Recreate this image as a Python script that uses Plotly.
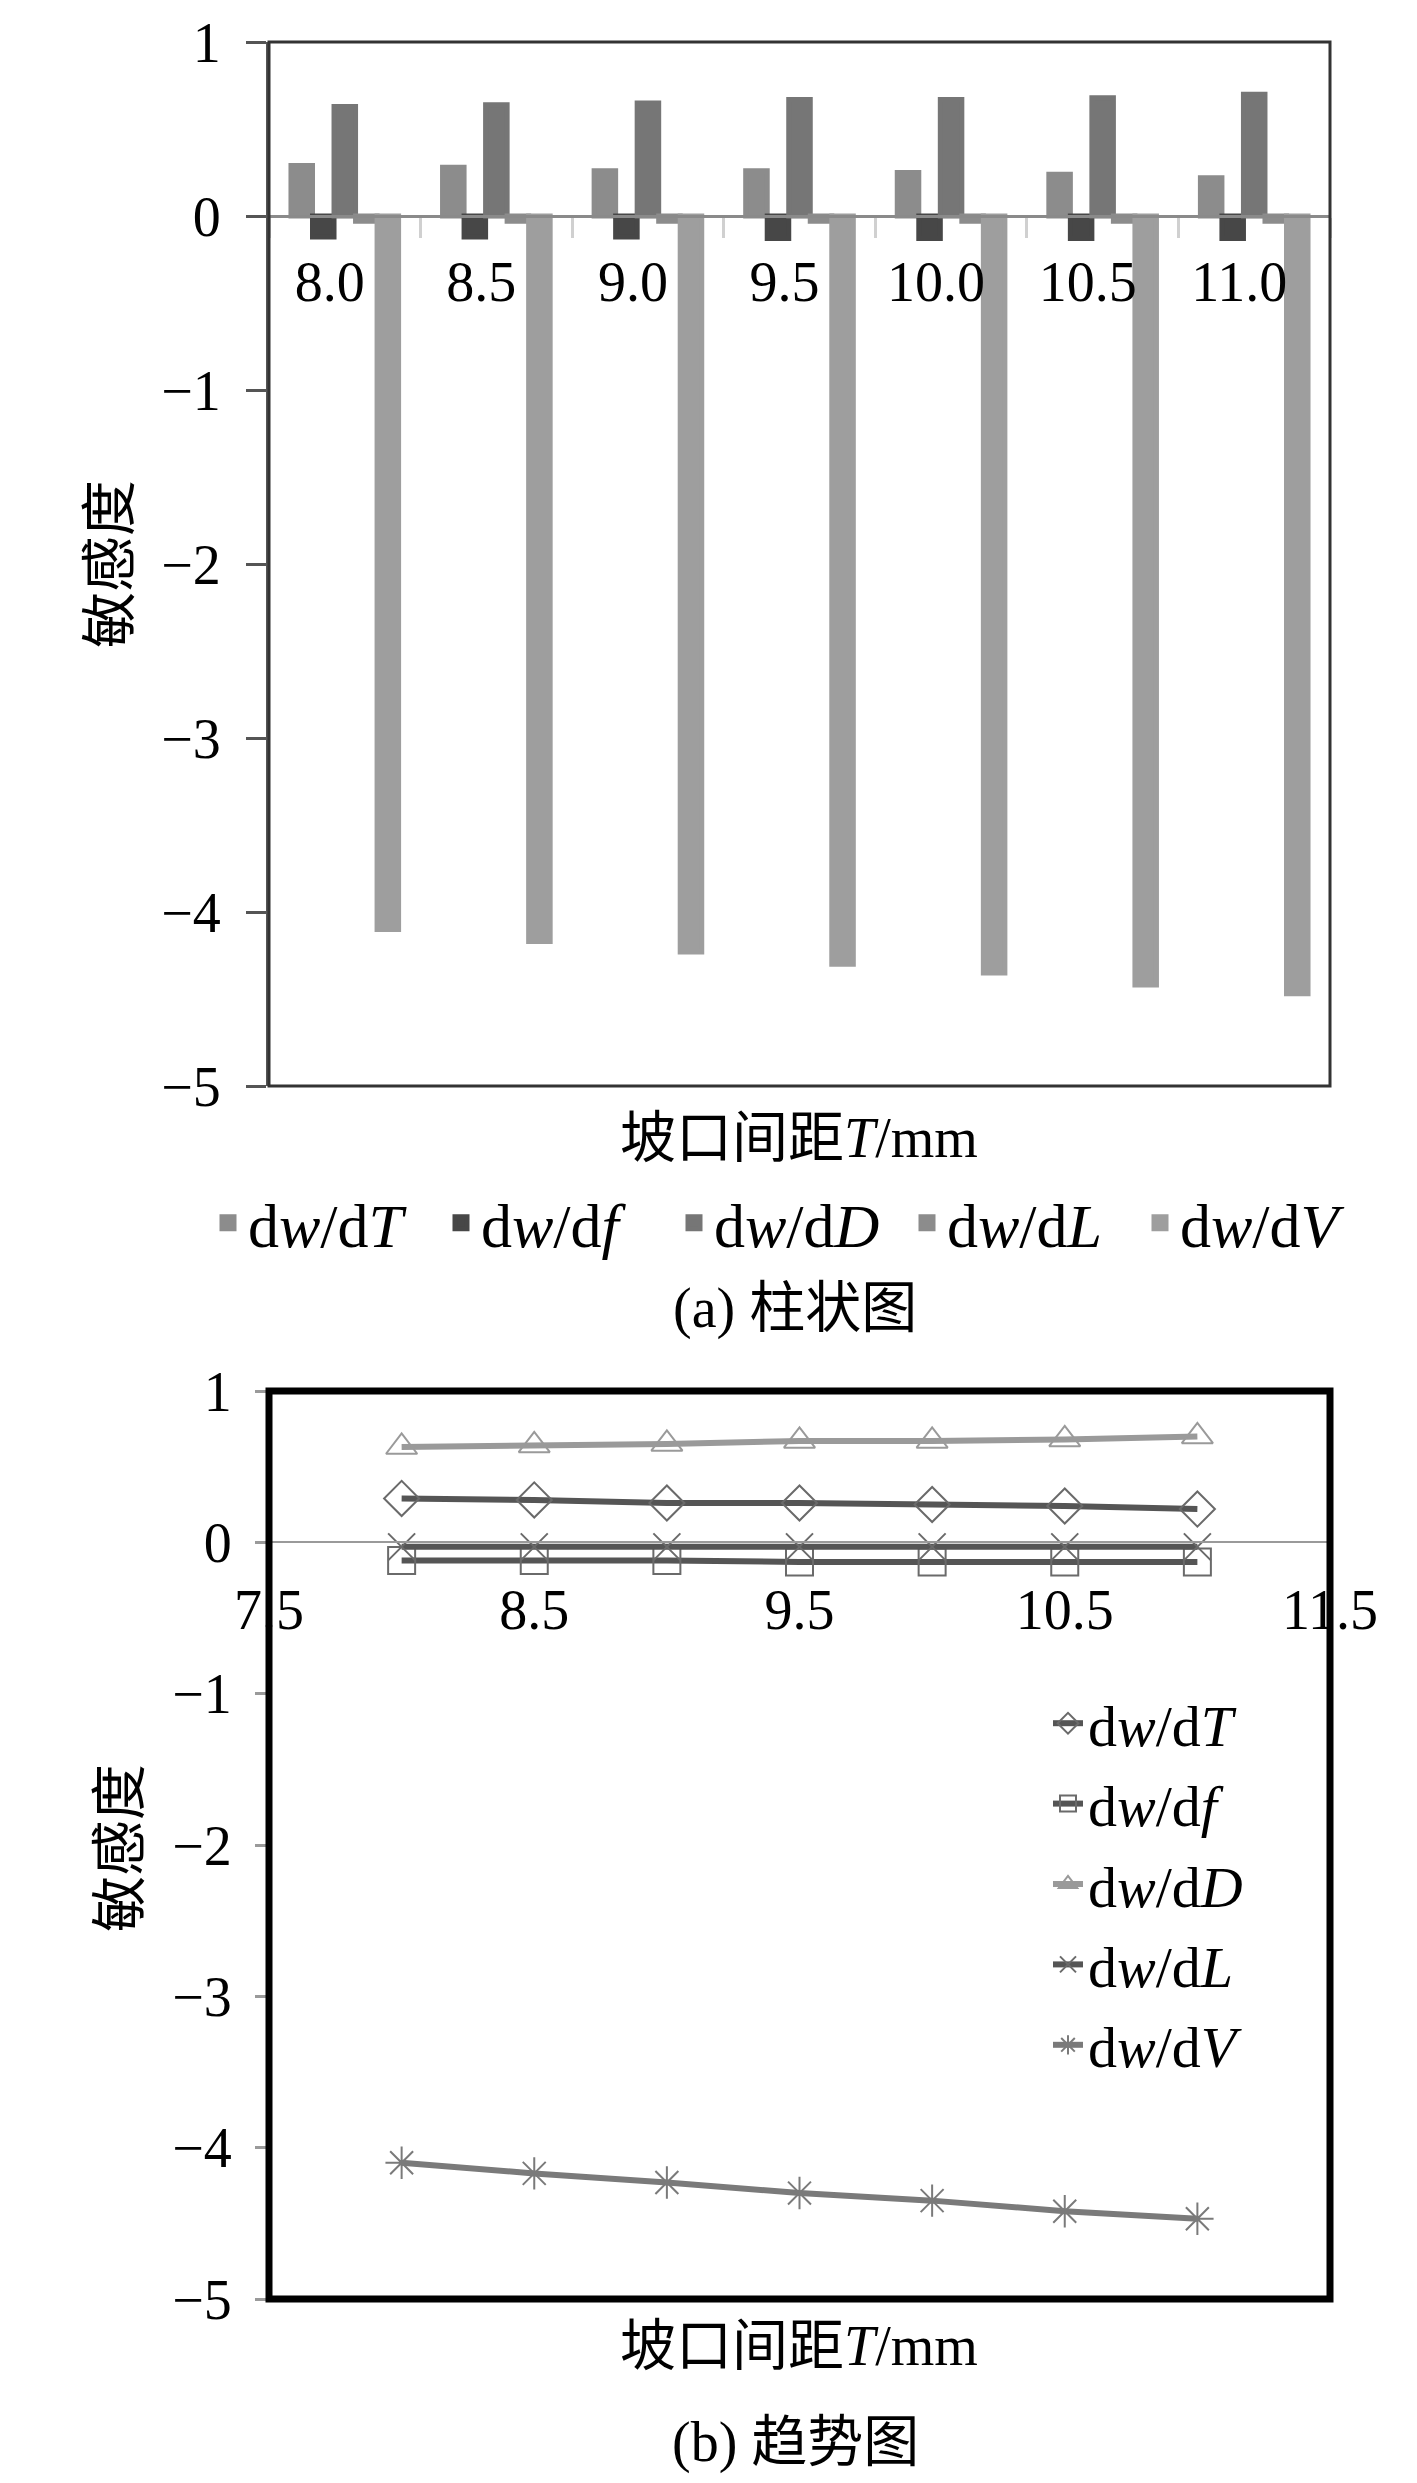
import plotly.graph_objects as go

# groove spacing T (mm) and sensitivities
spacing = ["8.0", "8.5", "9.0", "9.5", "10.0", "10.5", "11.0"]
spacing_num = [8.0, 8.5, 9.0, 9.5, 10.0, 10.5, 11.0]

dw_dT = [0.29, 0.28, 0.26, 0.26, 0.25, 0.24, 0.22]
dw_df = [-0.12, -0.12, -0.12, -0.13, -0.13, -0.13, -0.13]
dw_dD = [0.63, 0.64, 0.65, 0.67, 0.67, 0.68, 0.70]
dw_dL = [-0.03, -0.03, -0.03, -0.03, -0.03, -0.03, -0.03]
dw_dV = [-4.10, -4.17, -4.23, -4.30, -4.35, -4.42, -4.47]

names = ["d<i>w</i>/d<i>T</i>", "d<i>w</i>/d<i>f</i>", "d<i>w</i>/d<i>D</i>",
         "d<i>w</i>/d<i>L</i>", "d<i>w</i>/d<i>V</i>"]
series = [dw_dT, dw_df, dw_dD, dw_dL, dw_dV]

y_ticks = [1, 0, -1, -2, -3, -4, -5]
x2_ticks = [7.5, 8.5, 9.5, 10.5, 11.5]

W, H = 1417, 2483
FONT = "Liberation Serif, Noto Sans CJK SC"
FS = 56

bar_colors = ["#8c8c8c", "#474747", "#767676", "#8c8c8c", "#9e9e9e"]
line_colors = ["#555555", "#555555", "#9a9a9a", "#555555", "#7a7a7a"]
marker_colors = ["#6a6a6a", "#6a6a6a", "#9a9a9a", "#6a6a6a", "#7a7a7a"]
symbols = ["diamond-open", "square-open", "triangle-up-open", "x-thin-open", "asterisk-open"]


def py(px):
    # pixel row -> paper fraction
    return 1 - px / H


x_dom = [261 / W, 1322 / W]
y1_dom = [py(1078), py(34)]
y2_dom = [py(2291), py(1383)]
y1_zero = y1_dom[0] + (y1_dom[1] - y1_dom[0]) * 5 / 6
y2_zero = y2_dom[0] + (y2_dom[1] - y2_dom[0]) * 5 / 6

fig = go.Figure()

for name, vals, col in zip(names, series, bar_colors):
    fig.add_trace(go.Bar(x=spacing, y=vals, name=name, xaxis="x", yaxis="y",
                         marker=dict(color=col, line=dict(color=col, width=5)),
                         legend="legend"))

for i, (name, vals) in enumerate(zip(names, series)):
    fig.add_trace(go.Scatter(x=spacing_num, y=vals, name=name, xaxis="x2", yaxis="y2",
                             mode="lines+markers", legend="legend2", legendgroup="g%d" % i,
                             line=dict(color=line_colors[i], width=6),
                             marker=dict(symbol=symbols[i], size=27, color=marker_colors[i],
                                         line=dict(color=marker_colors[i], width=2))))

tickfont = dict(family=FONT, size=FS, color="black")


def label(text, x, y, angle=0):
    return dict(text=text, textangle=angle, x=x / W, y=py(y), xref="paper", yref="paper",
                xanchor="center", yanchor="middle", showarrow=False,
                font=dict(family=FONT, size=FS, color="black"))


fig.update_layout(
    width=W, height=H,
    margin=dict(l=0, r=0, t=0, b=0, autoexpand=False),
    paper_bgcolor="white", plot_bgcolor="white",
    barmode="group", bargap=0.29, bargroupgap=0,
    font=dict(family=FONT, size=FS, color="black"),
    xaxis=dict(domain=x_dom, type="category", anchor="free", position=y1_zero, automargin=False,
               showline=True, linecolor="#8a8a8a", linewidth=3,
               ticks="outside", tickson="boundaries", ticklen=20, tickwidth=3, tickcolor="#d0d0d0",
               showgrid=False, tickfont=tickfont, ticklabelstandoff=16, ticklabelshift=-15,
               ticklabeloverflow="allow"),
    yaxis=dict(domain=y1_dom, anchor="x", range=[-5, 1], tickvals=y_ticks, automargin=False,
               showline=True, linecolor="#555555", linewidth=3,
               ticks="outside", ticklen=20, tickwidth=3, tickcolor="#555555",
               showgrid=False, zeroline=False, tickfont=tickfont, ticklabelstandoff=14,
               ticklabeloverflow="allow"),
    xaxis2=dict(domain=x_dom, range=[7.5, 11.5], anchor="free", position=y2_zero, automargin=False,
                tickvals=x2_ticks, ticktext=["7.5", "8.5", "9.5", "10.5", "11.5"],
                showline=True, linecolor="#9a9a9a", linewidth=2, ticks="",
                showgrid=False, zeroline=False, tickfont=tickfont, ticklabelstandoff=18,
                ticklabeloverflow="allow"),
    yaxis2=dict(domain=y2_dom, anchor="x2", range=[-5, 1], tickvals=y_ticks, automargin=False,
                showline=False, ticks="outside", ticklen=13, tickwidth=3, tickcolor="#9a9a9a",
                showgrid=False, zeroline=False, tickfont=tickfont, ticklabelstandoff=12,
                ticklabeloverflow="allow"),
    legend=dict(orientation="h", x=200 / W, xanchor="left", y=py(1215), yanchor="middle",
                font=dict(family=FONT, size=62), entrywidth=188, entrywidthmode="pixels",
                bgcolor="rgba(0,0,0,0)"),
    legend2=dict(orientation="v", x=1040 / W, xanchor="left", y=py(1671), yanchor="top",
                 font=dict(family=FONT, size=58), tracegroupgap=2,
                 bgcolor="rgba(0,0,0,0)"),
    shapes=[
        dict(type="rect", xref="x domain", yref="y domain", x0=0, x1=1, y0=0, y1=1,
             line=dict(color="#333333", width=3)),
        dict(type="rect", xref="x2 domain", yref="y2 domain", x0=0, x1=1, y0=0, y1=1,
             line=dict(color="black", width=7)),
    ],
    annotations=[
        label("敏感度", 102, 556, -90),
        label("敏感度", 112, 1840, -90),
        label("坡口间距<i>T</i>/mm", 791, 1130),
        label("坡口间距<i>T</i>/mm", 791, 2338),
        label("(a) 柱状图", 787, 1300),
        label("(b) 趋势图", 787, 2434),
    ],
)

fig.write_html("out.html")
